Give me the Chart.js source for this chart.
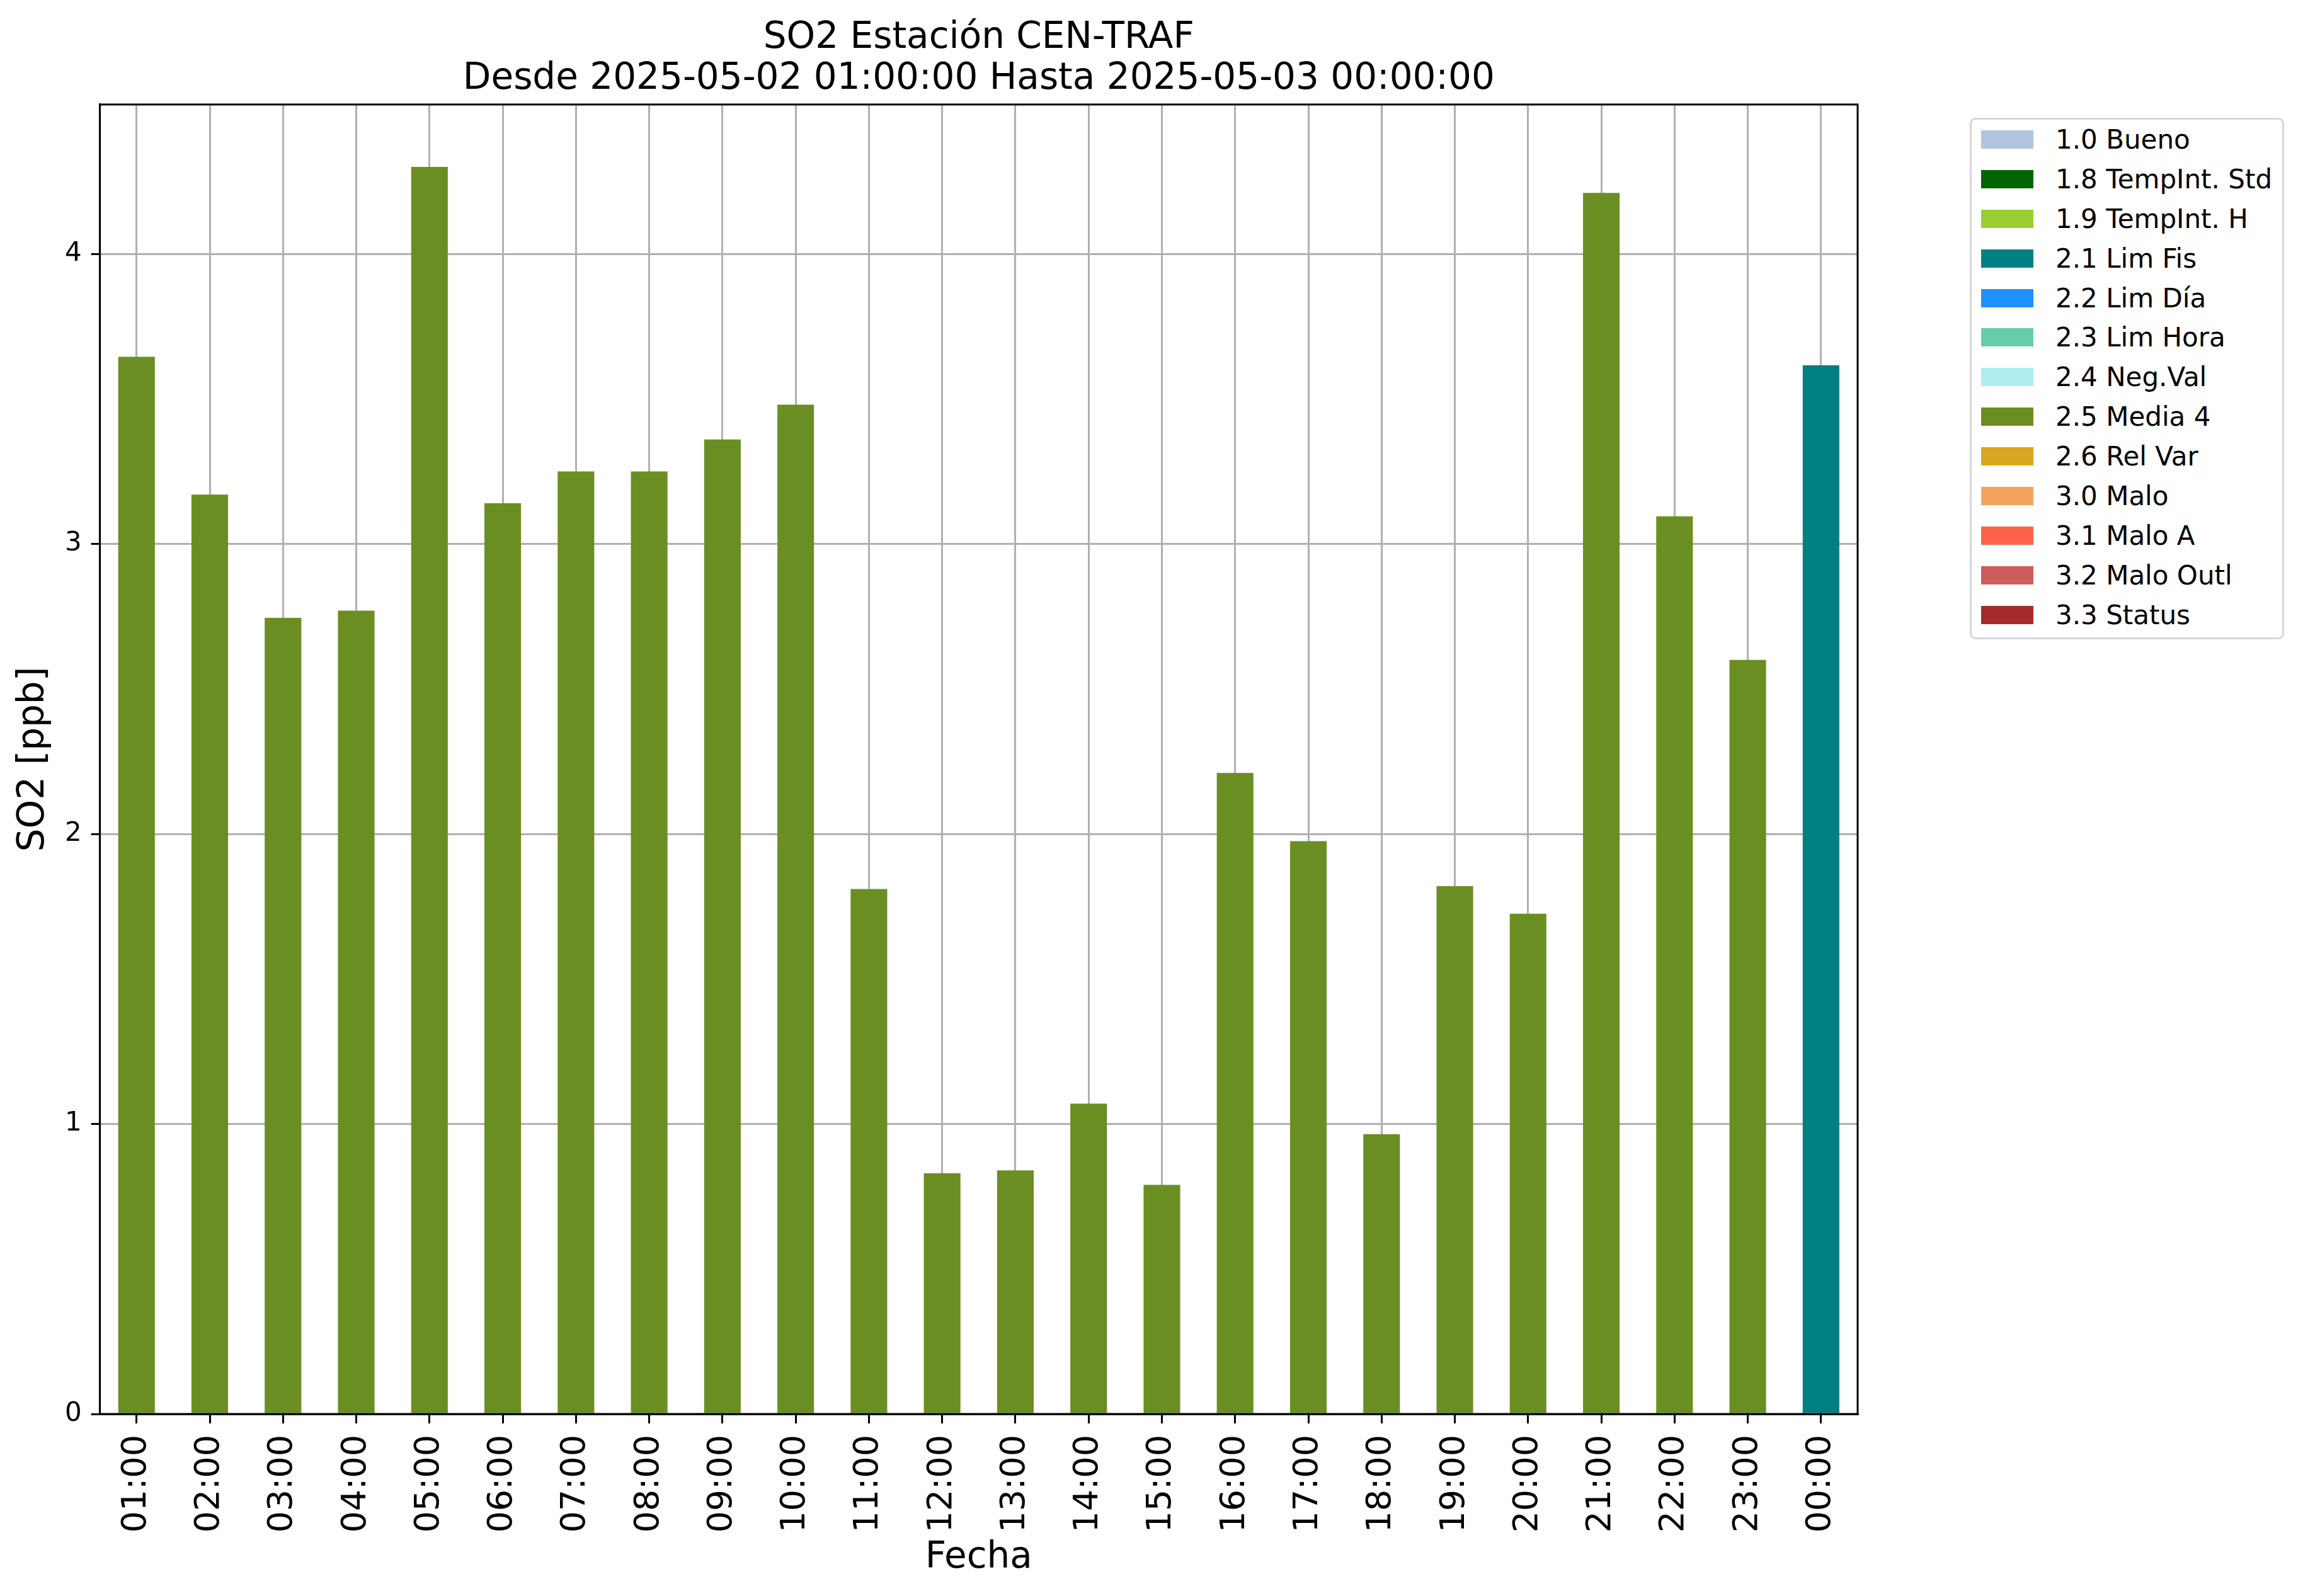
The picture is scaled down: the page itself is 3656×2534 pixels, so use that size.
<!DOCTYPE html>
<html lang="es">
  <head>
    <meta charset="UTF-8" />
    <title>SO2 CEN-TRAF</title>
    <script src="https://cdn.jsdelivr.net/npm/chart.js"></script>
    <style>
      body { margin: 0; background: #fff; font-family: "DejaVu Sans", sans-serif; }
      #wrap { position: relative; width: 3656px; height: 2534px; }
      #leyenda {
        position: absolute; left: 3127px; top: 187px; width: 493px;
        border: 3px solid #d6d6d6; border-radius: 9px; background: #fff;
        padding: 0 0 4px 0;
      }
      .fila { height: 62.9px; display: flex; align-items: center; }
      .caja { width: 83px; height: 29px; margin-left: 15px; margin-right: 35px; }
      .txt { font-size: 42px; color: #000; white-space: nowrap; }
    </style>
  </head>
  <body>
    <div id="wrap">
      <canvas id="grafico" width="3656" height="2534"></canvas>
      <div id="leyenda"></div>
    </div>

<script>
  // horas y valores de SO2 [ppb]
  var horas = ["01:00", "02:00", "03:00", "04:00", "05:00", "06:00", "07:00", "08:00",
               "09:00", "10:00", "11:00", "12:00", "13:00", "14:00", "15:00", "16:00",
               "17:00", "18:00", "19:00", "20:00", "21:00", "22:00", "23:00", "00:00"];
  var valores = [3.645, 3.17, 2.745, 2.77, 4.30, 3.14, 3.25, 3.25,
                 3.36, 3.48, 1.81, 0.83, 0.84, 1.07, 0.79, 2.21,
                 1.975, 0.965, 1.82, 1.725, 4.21, 3.095, 2.60, 3.616];
  // bandera de calidad de cada hora
  var banderas = ["2.5", "2.5", "2.5", "2.5", "2.5", "2.5", "2.5", "2.5",
                  "2.5", "2.5", "2.5", "2.5", "2.5", "2.5", "2.5", "2.5",
                  "2.5", "2.5", "2.5", "2.5", "2.5", "2.5", "2.5", "2.1"];

  var codigos = ["1.0", "1.8", "1.9", "2.1", "2.2", "2.3", "2.4", "2.5", "2.6", "3.0", "3.1", "3.2", "3.3"];
  var nombres = ["1.0 Bueno", "1.8 TempInt. Std", "1.9 TempInt. H", "2.1 Lim Fis", "2.2 Lim Día",
                 "2.3 Lim Hora", "2.4 Neg.Val", "2.5 Media 4", "2.6 Rel Var", "3.0 Malo",
                 "3.1 Malo A", "3.2 Malo Outl", "3.3 Status"];
  var colores = ["#b0c4de", "#006400", "#9acd32", "#008080", "#1e90ff", "#66cdaa", "#afeeee",
                 "#6b8e23", "#daa520", "#f4a460", "#ff6347", "#cd5c5c", "#a52a2a"];

  // leyenda
  var ley = document.getElementById("leyenda");
  for (var k = 0; k < nombres.length; k++) {
    var f = document.createElement("div");
    f.className = "fila";
    f.innerHTML = '<div class="caja" style="background:' + colores[k] + '"></div><span class="txt">' + nombres[k] + "</span>";
    ley.appendChild(f);
  }

  var datasets = codigos.map(function (c, k) {
    return {
      label: nombres[k],
      data: valores.map(function (v, i) { return banderas[i] === c ? v : null; }),
      backgroundColor: colores[k],
      borderWidth: 0,
      grouped: false,
      barPercentage: 0.5,
      categoryPercentage: 1.0,
    };
  });

  var marco = {
    id: "marco",
    afterDraw: function (chart) {
      var a = chart.chartArea, ctx = chart.ctx;
      ctx.save();
      ctx.strokeStyle = "#000";
      ctx.lineWidth = 3;
      ctx.strokeRect(a.left, a.top, a.right - a.left, a.bottom - a.top);
      ctx.restore();
    },
  };

  Chart.defaults.font.family = "'DejaVu Sans', sans-serif";
  Chart.defaults.color = "#000";

  var ymax = Math.max.apply(null, valores) * 1.05;

  new Chart(document.getElementById("grafico"), {
    type: "bar",
    data: { labels: horas, datasets: datasets },
    plugins: [marco],
    options: {
      responsive: false,
      devicePixelRatio: 1,
      animation: false,
      layout: { padding: { left: 0, top: 0, right: 707, bottom: 0 } },
      plugins: {
        legend: { display: false },
        tooltip: { enabled: false },
        title: {
          display: true,
          fullSize: false,
          text: ["SO2 Estación CEN-TRAF", "Desde 2025-05-02 01:00:00 Hasta 2025-05-03 00:00:00"],
          color: "#000",
          font: { size: 58, weight: "normal", lineHeight: 1.12 },
          padding: { top: 28, bottom: 8 },
        },
      },
      scales: {
        x: {
          z: 1,
          grid: { offset: false, color: "#b0b0b0", lineWidth: 3, tickColor: "#000", tickLength: 15, tickWidth: 3 },
          border: { display: true, color: "#000", width: 3 },
          ticks: { autoSkip: false, minRotation: 90, maxRotation: 90, padding: 18, font: { size: 54 } },
          title: { display: true, text: "Fecha", font: { size: 58 }, padding: { top: 0, bottom: 25 } },
          afterFit: function (s) { s.height = 289; },
        },
        y: {
          z: 1,
          min: 0,
          max: ymax,
          grid: { color: "#b0b0b0", lineWidth: 3, tickColor: "#000", tickLength: 14, tickWidth: 3 },
          border: { display: true, color: "#000", width: 3 },
          ticks: { stepSize: 1, includeBounds: false, padding: 15, font: { size: 42 } },
          title: { display: true, text: "SO2 [ppb]", font: { size: 58 }, padding: { top: 19, bottom: 0 } },
          afterFit: function (s) { s.width = 158.6; },
        },
      },
    },
  });
</script>
  </body>
</html>
